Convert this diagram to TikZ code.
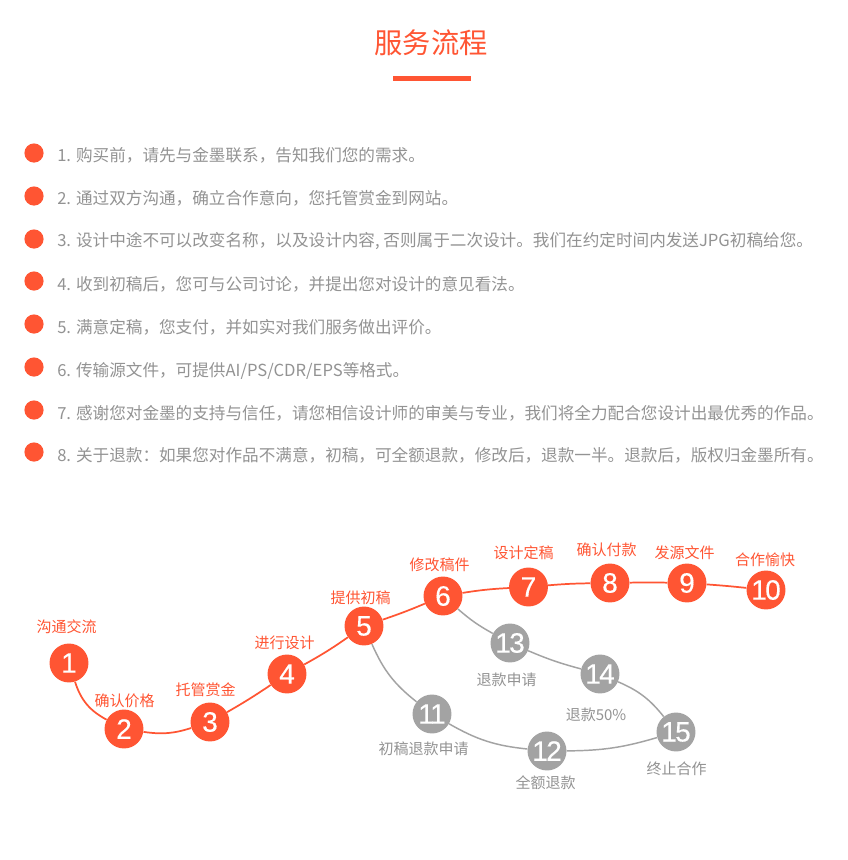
\documentclass[tikz,border=0pt]{standalone}
\usepackage{fontspec}
\setmainfont{Noto Sans CJK SC}
\newfontfamily\numfont[FakeBold=0.3]{Liberation Sans}
\newfontfamily\numfonttight[FakeBold=0.3,LetterSpace=-6]{Liberation Sans}
\definecolor{brand}{HTML}{FF5533}
\definecolor{stepgrey}{HTML}{A3A3A3}
\definecolor{listgrey}{HTML}{939393}
\newcommand{\pxfont}[1]{\fontsize{#1}{#1}\selectfont}
\tikzset{
  x=0.75pt,y=-0.75pt,
  redstep/.style={circle,fill=brand,minimum size=29.2pt,inner sep=0pt,text=white,font=\numfont\pxfont{21}},
  redsteptight/.style={redstep,font=\numfonttight\pxfont{21}},
  greystep/.style={circle,fill=stepgrey,minimum size=29.2pt,inner sep=0pt,text=white,font=\numfonttight\pxfont{21}},
  redlabel/.style={inner sep=0pt,text=brand,font=\pxfont{11.25}},
  greylabel/.style={inner sep=0pt,text=stepgrey!90!black,font=\pxfont{11.25}},
  redline/.style={brand,line width=1.3pt},
  greyline/.style={stepgrey,line width=1.1pt},
  bullet/.style={circle,fill=brand,minimum size=14.4pt,inner sep=0pt},
  listtext/.style={anchor=west,inner sep=0pt,text=listgrey,font=\pxfont{12.46}},
}
\begin{document}
\begin{tikzpicture}
\useasboundingbox (0,0) rectangle (847,860);
\fill[white] (0,0) rectangle (847,860);
\node[inner sep=0pt,text=brand,font=\pxfont{21.2}] (title) at (431,42.5) {服务流程};
\fill[brand] (393,76) rectangle (470.5,81);
\foreach \n/\y/\ty/\t in {
 1/153/155.5/{1. 购买前，请先与金墨联系，告知我们您的需求。},
 2/196/198.5/{2. 通过双方沟通，确立合作意向，您托管赏金到网站。},
 3/239/241.5/{3. 设计中途不可以改变名称，以及设计内容, 否则属于二次设计。我们在约定时间内发送JPG初稿给您。},
 4/281/284.5/{4. 收到初稿后，您可与公司讨论，并提出您对设计的意见看法。},
 5/324/327.5/{5. 满意定稿，您支付，并如实对我们服务做出评价。},
 6/367/370.5/{6. 传输源文件，可提供AI/PS/CDR/EPS等格式。},
 7/410/413.5/{7. 感谢您对金墨的支持与信任，请您相信设计师的审美与专业，我们将全力配合您设计出最优秀的作品。},
 8/452/455.5/{8. 关于退款：如果您对作品不满意，初稿，可全额退款，修改后，退款一半。退款后，版权归金墨所有。}}{
  \node[bullet] (b\n) at (34,\y) {};
  \node[listtext] (t\n) at (57,\ty) {\t};
}
\foreach \n/\x/\y in {1/69/663,2/124/729,3/210/722,4/287/674,5/364/626,6/443/596,7/528.5/587,8/610/583,9/687/583}{
  \node[redstep] (s\n) at (\x,\y) {\n};
}
\node[redsteptight] (s10) at (766,590) {10};
\foreach \n/\x/\y in {11/432/714,12/547/751,13/510/643,14/600/674,15/676/732}{
  \node[greystep] (s\n) at (\x,\y) {\n};
}
\draw[redline] (s1) to[bend right=22] (s2);
\draw[redline] (s2) to[bend right=13] (s3);
\draw[redline] (s3) to[bend right=2] (s4);
\draw[redline] (s4) to[bend right=3] (s5);
\draw[redline] (s5) to[bend right=2] (s6);
\draw[redline] (s6) to[bend left=3] (s7);
\draw[redline] (s7) to[bend left=2] (s8);
\draw[redline] (s8) to[bend left=1] (s9);
\draw[redline] (s9) to[bend left=1] (s10);
\draw[greyline] (s5) to[bend right=14] (s11);
\draw[greyline] (s11) to[bend right=12] (s12);
\draw[greyline] (s12) to[bend right=8] (s15);
\draw[greyline] (s14) to[bend left=14] (s15);
\draw[greyline] (s13) to[bend right=4] (s14);
\draw[greyline] (s6) to[bend right=6] (s13);
\foreach \n/\x/\y/\t in {a/66.5/627/沟通交流,b/124.5/701/确认价格,c/205.5/690/托管赏金,d/284.5/643/进行设计,e/360.5/598/提供初稿,f/439.5/565/修改稿件,g/523.5/553/设计定稿,h/606.5/550/确认付款,i/684.5/553/发源文件,j/765/560/合作愉快}{
  \node[redlabel] (l\n) at (\x,\y) {\t};
}
\foreach \n/\x/\y/\t in {k/506.5/679.5/退款申请,l/596/714.5/退款50\%,m/676.5/768.5/终止合作,n/423.5/748.5/初稿退款申请,o/545.5/782.5/全额退款}{
  \node[greylabel] (l\n) at (\x,\y) {\t};
}
\end{tikzpicture}
\end{document}
